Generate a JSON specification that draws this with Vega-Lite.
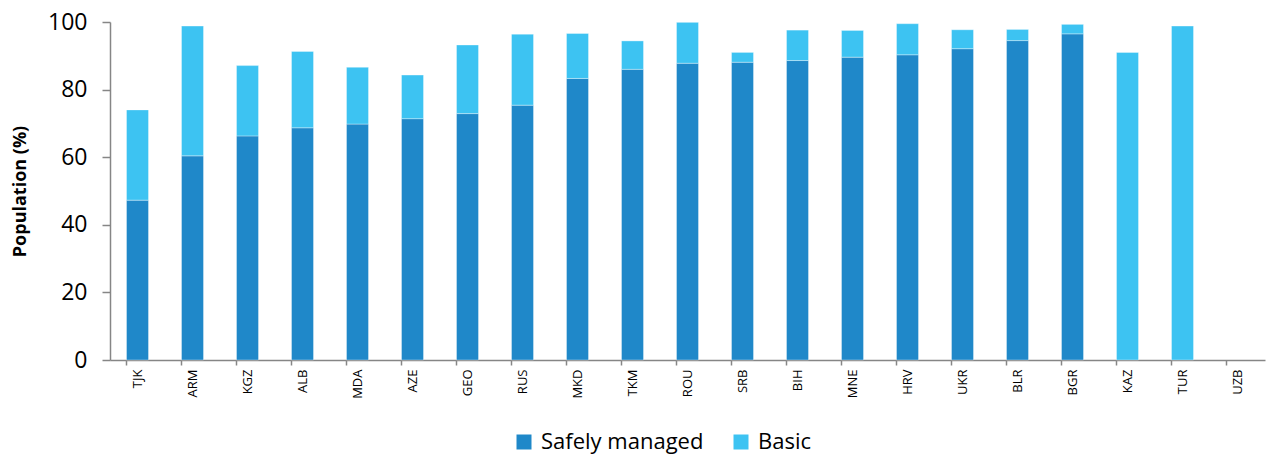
{
  "$schema": "https://vega.github.io/schema/vega-lite/v6.json",
  "autosize": {"type": "none"},
  "padding": {"left": 110, "top": 22, "right": 4, "bottom": 97},
  "width": 1155,
  "height": 338,
  "config": {"view": {"stroke": null}, "font": "Open Sans"},
  "data": {"values": [
    {"country": "TJK", "type": "Safely managed", "value": 47.3},
    {"country": "TJK", "type": "Basic", "value": 26.7},
    {"country": "ARM", "type": "Safely managed", "value": 60.4},
    {"country": "ARM", "type": "Basic", "value": 38.4},
    {"country": "KGZ", "type": "Safely managed", "value": 66.3},
    {"country": "KGZ", "type": "Basic", "value": 20.8},
    {"country": "ALB", "type": "Safely managed", "value": 68.7},
    {"country": "ALB", "type": "Basic", "value": 22.6},
    {"country": "MDA", "type": "Safely managed", "value": 69.8},
    {"country": "MDA", "type": "Basic", "value": 16.8},
    {"country": "AZE", "type": "Safely managed", "value": 71.4},
    {"country": "AZE", "type": "Basic", "value": 12.9},
    {"country": "GEO", "type": "Safely managed", "value": 72.9},
    {"country": "GEO", "type": "Basic", "value": 20.3},
    {"country": "RUS", "type": "Safely managed", "value": 75.4},
    {"country": "RUS", "type": "Basic", "value": 21.0},
    {"country": "MKD", "type": "Safely managed", "value": 83.3},
    {"country": "MKD", "type": "Basic", "value": 13.3},
    {"country": "TKM", "type": "Safely managed", "value": 86.0},
    {"country": "TKM", "type": "Basic", "value": 8.4},
    {"country": "ROU", "type": "Safely managed", "value": 87.8},
    {"country": "ROU", "type": "Basic", "value": 12.1},
    {"country": "SRB", "type": "Safely managed", "value": 88.1},
    {"country": "SRB", "type": "Basic", "value": 2.9},
    {"country": "BIH", "type": "Safely managed", "value": 88.6},
    {"country": "BIH", "type": "Basic", "value": 9.0},
    {"country": "MNE", "type": "Safely managed", "value": 89.6},
    {"country": "MNE", "type": "Basic", "value": 7.9},
    {"country": "HRV", "type": "Safely managed", "value": 90.3},
    {"country": "HRV", "type": "Basic", "value": 9.2},
    {"country": "UKR", "type": "Safely managed", "value": 92.1},
    {"country": "UKR", "type": "Basic", "value": 5.6},
    {"country": "BLR", "type": "Safely managed", "value": 94.5},
    {"country": "BLR", "type": "Basic", "value": 3.3},
    {"country": "BGR", "type": "Safely managed", "value": 96.5},
    {"country": "BGR", "type": "Basic", "value": 2.8},
    {"country": "KAZ", "type": "Basic", "value": 91.0},
    {"country": "TUR", "type": "Basic", "value": 98.8}
  ]},
  "mark": {"type": "bar", "stroke": "#ffffff", "strokeOpacity": 0.35, "strokeWidth": 1},
  "encoding": {
    "x": {
      "field": "country", "type": "nominal", "sort": null,
      "scale": {
        "domain": ["TJK", "ARM", "KGZ", "ALB", "MDA", "AZE", "GEO", "RUS", "MKD", "TKM", "ROU", "SRB", "BIH", "MNE", "HRV", "UKR", "BLR", "BGR", "KAZ", "TUR", "UZB"],
        "paddingInner": 0.6, "paddingOuter": 0.3
      },
      "axis": {
        "title": null, "labelAngle": 270, "labelFontSize": 13, "labelColor": "#000000",
        "domainColor": "#868686", "domainWidth": 1.5, "tickColor": "#868686", "tickWidth": 1.5,
        "tickSize": 5, "bandPosition": 0, "labelPadding": 4
      }
    },
    "y": {
      "field": "value", "type": "quantitative", "stack": "zero",
      "scale": {"domain": [0, 100]},
      "axis": {
        "title": "Population (%)", "titleFontSize": 18, "titleFontWeight": "bold", "titleColor": "#000000",
        "titlePadding": 18,
        "values": [0, 20, 40, 60, 80, 100], "grid": false,
        "labelFontSize": 23, "labelColor": "#000000", "labelPadding": 15,
        "domainColor": "#868686", "domainWidth": 1.5, "tickColor": "#868686", "tickWidth": 1.5, "tickSize": 8
      }
    },
    "color": {
      "field": "type", "type": "nominal",
      "scale": {"domain": ["Safely managed", "Basic"], "range": ["#1F88C9", "#3DC3F2"]},
      "legend": {
        "title": null, "orient": "none", "direction": "horizontal", "legendX": 403, "legendY": 409,
        "symbolType": "square", "symbolSize": 225, "symbolStrokeWidth": 0, "labelFontSize": 22,
        "labelColor": "#000000", "columnPadding": 26, "labelOffset": 6, "labelLimit": 400
      }
    },
    "order": {"field": "type", "sort": "descending"}
  }
}
